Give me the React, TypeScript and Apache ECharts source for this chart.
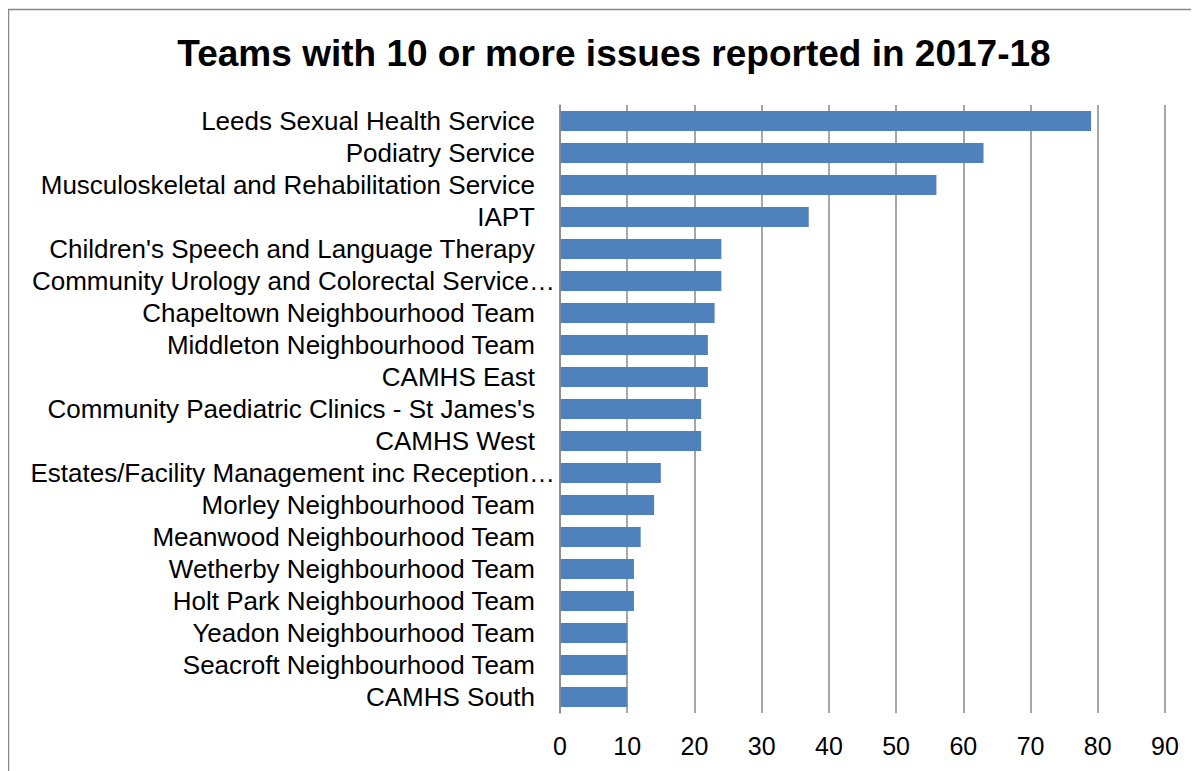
import React, { useEffect, useRef } from "react";
import * as echarts from "echarts";

const titleText = "Teams with 10 or more issues reported in 2017-18";

const teams = [
  "Leeds Sexual Health Service",
  "Podiatry Service",
  "Musculoskeletal and Rehabilitation Service",
  "IAPT",
  "Children's Speech and Language Therapy",
  "Community Urology and Colorectal Service…",
  "Chapeltown Neighbourhood Team",
  "Middleton Neighbourhood Team",
  "CAMHS East",
  "Community Paediatric Clinics - St James's",
  "CAMHS West",
  "Estates/Facility Management inc Reception…",
  "Morley Neighbourhood Team",
  "Meanwood Neighbourhood Team",
  "Wetherby Neighbourhood Team",
  "Holt Park Neighbourhood Team",
  "Yeadon Neighbourhood Team",
  "Seacroft Neighbourhood Team",
  "CAMHS South",
];

const issues = [79, 63, 56, 37, 24, 24, 23, 22, 22, 21, 21, 15, 14, 12, 11, 11, 10, 10, 10];

const xMin = 0;
const xMax = 90;
const xInterval = 10;

export default function App() {
  const ref = useRef<HTMLDivElement>(null);
  useEffect(() => {
    if (!ref.current) return;
    const chart = echarts.init(ref.current, undefined, { renderer: "svg" });
    const font = "'Liberation Sans', Arial, sans-serif";
    chart.setOption({
      animation: false,
      textStyle: { fontFamily: font },
      title: {
        text: titleText,
        left: 601,
        top: 22,
        textAlign: "center",
        textStyle: { fontSize: 37, fontWeight: "bold", color: "#000", fontFamily: font },
      },
      graphic: [
        {
          type: "rect",
          shape: { x: 0.5, y: 1.5, width: 3000, height: 3000 },
          style: { fill: "none", stroke: "#888", lineWidth: 1.5 },
          silent: true,
        },
      ],
      grid: { left: 552, right: 34, top: 97, bottom: 58, containLabel: false },
      xAxis: {
        type: "value",
        min: xMin,
        max: xMax,
        interval: xInterval,
        axisLine: { show: false },
        axisTick: { show: false },
        splitLine: { show: true, lineStyle: { color: "#888", width: 1.5 } },
        axisLabel: { color: "#000", fontSize: 25, margin: 20, fontFamily: font },
      },
      yAxis: {
        type: "category",
        data: teams,
        inverse: true,
        z: 5,
        axisLine: { show: true, lineStyle: { color: "#888", width: 1.5 } },
        axisTick: { show: false },
        axisLabel: {
          color: "#000",
          fontSize: 26,
          margin: 25,
          interval: 0,
          fontFamily: font,
          formatter: (v: string) => (v.endsWith("…") ? "{cut|" + v + "}" : v),
          rich: {
            cut: { fontSize: 26, color: "#000", fontFamily: font, padding: [0, -20, 0, 0] },
          },
        },
      },
      series: [
        {
          type: "bar",
          data: issues,
          barWidth: 20,
          itemStyle: { color: "#4F81BD" },
        },
      ],
    });
    return () => chart.dispose();
  }, []);
  return <div ref={ref} style={{ width: 1191, height: 763 }} />;
}
